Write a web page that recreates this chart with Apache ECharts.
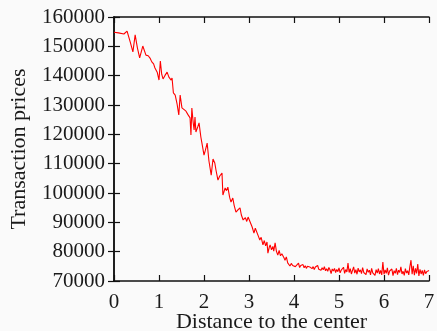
<!DOCTYPE html>
<html>
<head>
<meta charset="utf-8">
<script src="https://cdn.jsdelivr.net/npm/echarts@6/dist/echarts.min.js"></script>
<style>
html,body{margin:0;padding:0;background:#fafafa;}
#chart{width:437px;height:331px;}
</style>
</head>
<body>
<div id="chart"></div>
<script>
const xTitle = "Distance to the center";
const yTitle = "Transaction prices";
const xTicks = [0, 1, 2, 3, 4, 5, 6, 7];
const yTicks = [70000, 80000, 90000, 100000, 110000, 120000, 130000, 140000, 150000, 160000];

const distance = [
  0.00,0.10,0.22,0.29,0.36,0.42,0.47,0.52,0.57,0.64,0.71,0.76,0.80,0.84,0.88,0.91,0.96,
  1.00,1.03,1.06,1.09,1.13,1.18,1.22,1.27,1.29,1.32,1.36,1.40,1.44,1.47,1.51,1.55,1.60,1.64,1.69,1.71,1.73,1.76,1.78,1.80,1.82,1.86,1.89,1.93,1.96,
  2.00,2.03,2.07,2.11,2.16,2.20,2.24,2.27,2.31,2.35,2.40,2.42,2.47,2.50,2.53,2.57,2.60,2.64,2.67,2.71,2.75,2.80,2.83,2.87,2.92,2.95,2.98,
  3.02,3.05,3.07,3.11,3.14,3.18,3.21,3.24,3.27,3.31,3.34,3.37,3.40,3.42,3.45,3.47,3.50,3.53,3.55,3.58,3.61,3.64,3.67,3.70,3.73,3.76,3.78,3.80,3.83,3.86,3.89,3.91,3.94,3.97,
  4.00,4.03,4.07,
  4.100,4.125,4.150,4.175,4.200,4.225,4.250,4.275,4.300,4.325,4.350,4.375,4.400,4.425,4.450,4.475,4.500,4.525,4.550,4.575,4.600,4.625,4.650,4.675,4.700,4.725,4.750,4.775,4.800,4.825,4.850,4.875,4.900,4.925,4.950,4.975,
  5.000,5.025,5.050,5.075,5.100,5.125,5.150,5.175,5.200,5.225,5.250,5.275,5.300,5.325,5.350,5.375,5.400,5.425,5.450,5.475,5.500,5.525,5.550,5.575,5.600,5.625,5.650,5.675,5.700,5.725,5.750,5.775,5.800,5.825,5.850,5.875,5.900,5.925,5.950,5.975,
  6.000,6.025,6.050,6.075,6.100,6.125,6.150,6.175,6.200,6.225,6.250,6.275,6.300,6.325,6.350,6.375,6.400,6.425,6.450,6.475,6.500,6.525,6.550,6.575,6.600,6.625,6.650,6.675,6.700,6.725,6.750,6.775,6.800,6.825,6.850,6.875,6.900,6.925,6.950,6.975,7.000
];

const price = [
  154800,154600,154200,155200,151500,148100,153900,149500,146100,150100,147000,146800,146000,144700,144000,142600,141200,
  138500,145000,140500,138900,140000,141200,139500,138500,139200,134100,133400,130500,126600,133400,129000,128600,127900,126800,125600,119800,129000,124000,121500,125900,120800,122500,123900,119100,116500,
  112900,114500,117000,110900,106100,111600,110200,107500,104400,105800,106800,99300,101700,100800,102000,98500,96900,98300,95800,93500,94200,94900,92500,90800,91600,90300,91800,
  91500,89200,88400,86300,88000,87400,85200,84000,84900,82300,83800,82000,83300,79500,81500,82300,80600,81800,80200,83000,80100,78800,80400,78600,79300,79900,77800,77100,78200,76200,76500,75100,76000,75300,
  75800,74900,75100,
  76100,74600,75300,74800,75600,74500,75200,74300,75000,74700,74800,75400,74200,74900,73900,74800,74400,75300,74000,74600,73700,74500,73800,74900,73500,74200,73300,74600,73800,72500,74100,73400,74300,72900,73900,73200,
  74500,72800,73700,73300,74700,72600,73900,73100,76100,72900,74200,72400,73600,74800,72700,73900,72300,74400,73100,73800,72500,74600,72900,73500,72200,74100,73000,73700,72100,74300,72800,73400,71900,73900,72700,74200,72400,73600,72100,76500,
  72300,73800,72600,74500,72000,73400,72800,74100,71800,73500,72600,74300,72200,73700,72900,74800,72400,73300,71900,74200,72700,73500,72100,74900,77100,72300,75200,72000,74300,72600,75800,71700,74000,72400,73600,71900,73800,72500,73200,72800,73600
];

const points = distance.map((d, i) => [d, price[i]]);
const font = "'Liberation Serif', 'DejaVu Serif', serif";
const txt = '#1a1a1a';

const baseAxis = {
  type: 'value',
  axisLine: { show: true, lineStyle: { color: '#111', width: 1.5 } },
  axisTick: { show: true, inside: true, length: 6, lineStyle: { color: '#111', width: 1.2 } },
  splitLine: { show: false }
};

const chart = echarts.init(document.getElementById('chart'), null, { renderer: 'canvas' });
chart.setOption({
  backgroundColor: '#fafafa',
  animation: false,
  grid: { left: 114, right: 8, top: 17, bottom: 50, containLabel: false, outerBoundsMode: 'none' },
  xAxis: [
    Object.assign({}, baseAxis, {
      position: 'bottom', min: xTicks[0], max: xTicks[xTicks.length - 1], interval: 1,
      axisLabel: { show: true, color: txt, fontFamily: font, fontSize: 21, margin: 11, formatter: v => String(v) },
      name: xTitle, nameLocation: 'middle', nameGap: 30, nameMoveOverlap: false,
      nameTextStyle: { color: txt, fontFamily: font, fontSize: 22 }
    }),
    Object.assign({}, baseAxis, {
      position: 'top', min: xTicks[0], max: xTicks[xTicks.length - 1], interval: 1,
      axisLabel: { show: false }
    })
  ],
  yAxis: [
    Object.assign({}, baseAxis, {
      position: 'left', min: yTicks[0], max: yTicks[yTicks.length - 1], interval: 10000,
      axisLabel: { show: true, color: txt, fontFamily: font, fontSize: 21, margin: 9, formatter: v => String(v) },
      name: yTitle, nameLocation: 'middle', nameGap: 84, nameRotate: 90, nameMoveOverlap: false,
      nameTextStyle: { color: txt, fontFamily: font, fontSize: 22 }
    }),
    Object.assign({}, baseAxis, {
      position: 'right', min: yTicks[0], max: yTicks[yTicks.length - 1], interval: 10000,
      axisLabel: { show: false }
    })
  ],
  series: [{
    type: 'line',
    data: points,
    xAxisIndex: 0,
    yAxisIndex: 0,
    showSymbol: false,
    symbol: 'none',
    lineStyle: { color: '#ff0000', width: 1.1 },
    clip: true
  }]
});
</script>
</body>
</html>
